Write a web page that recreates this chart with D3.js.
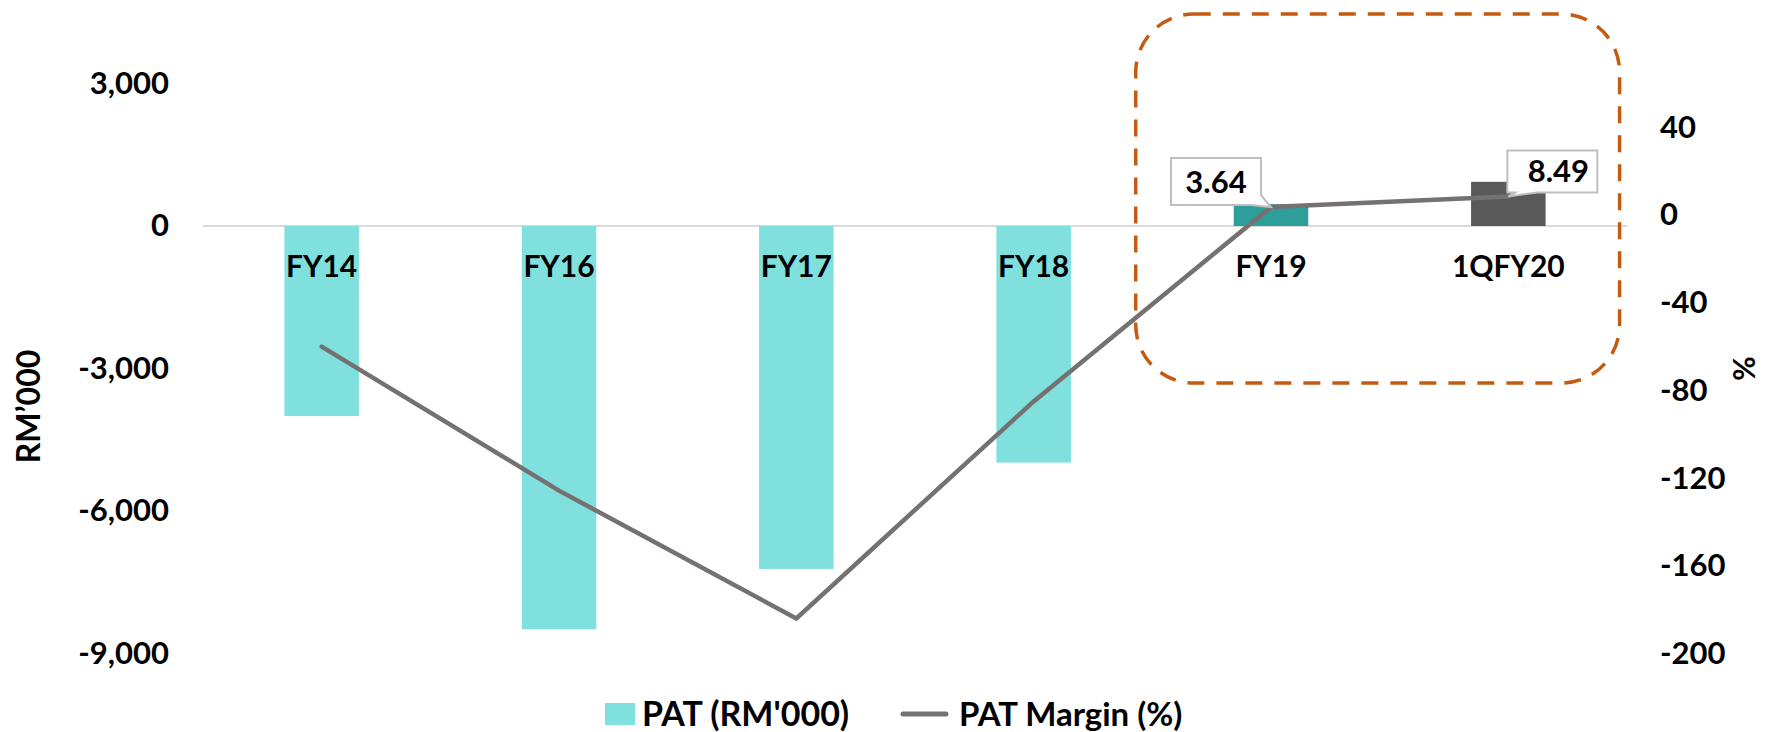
<!DOCTYPE html>
<html lang="en">
<head>
    <meta charset="UTF-8">
    <title>PAT and PAT Margin</title>
    <script src="https://d3js.org/d3.v7.min.js"></script>
    <style>
        body { margin: 0; background: #fff; }
        text { font-family: Lato, "Open Sans", sans-serif; font-weight: 700; }
        .axis .domain { display: none; }
    </style>
</head>
<body>
    <svg id="chart" width="1767" height="732"></svg>
    <script>
        const categories = ["FY14", "FY16", "FY17", "FY18", "FY19", "1QFY20"];
        const patValues = [-4000, -8490, -7220, -4980, 460, 930];
        const marginValues = [-60, -125.7, -184, -85, 3.64, 8.49];
        const barColors = ["#7FE0DE", "#7FE0DE", "#7FE0DE", "#7FE0DE", "#2E9E9A", "#595959"];
        const leftTicks = [3000, 0, -3000, -6000, -9000];
        const rightTicks = [40, 0, -40, -80, -120, -160, -200];
        const labelledCats = ["FY19", "1QFY20"];

        const data = categories.map((c, i) => ({cat: c, pat: patValues[i], margin: marginValues[i], color: barColors[i]}));

        const svg = d3.select("#chart");
        const plot = {left: 203, right: 1627, top: 83.5, bottom: 653.5};

        const x = d3.scaleBand()
            .domain(categories)
            .range([plot.left, plot.right])
            .paddingInner(0.686)
            .paddingOuter(0.343);
        const yL = d3.scaleLinear().domain([-9000, 3000]).range([plot.bottom, plot.top]);
        const yR = d3.scaleLinear().domain([-200, 60]).range([plot.bottom, plot.top]);
        const fmt = d => d3.format(",")(d).replace("\u2212", "-");

        // zero line
        svg.append("line")
            .attr("x1", plot.left).attr("x2", plot.right)
            .attr("y1", yL(0)).attr("y2", yL(0))
            .attr("stroke", "#D9D9D9").attr("stroke-width", 2);

        // bars
        svg.selectAll(".bar")
            .data(data)
            .enter()
            .append("rect")
            .attr("class", "bar")
            .attr("x", d => x(d.cat))
            .attr("width", x.bandwidth())
            .attr("y", d => yL(Math.max(0, d.pat)))
            .attr("height", d => Math.abs(yL(d.pat) - yL(0)))
            .attr("fill", d => d.color);

        // category labels under the zero line
        svg.selectAll(".cat")
            .data(data)
            .enter()
            .append("text")
            .attr("class", "cat")
            .attr("x", d => x(d.cat) + x.bandwidth() / 2)
            .attr("y", yL(0) + 51)
            .attr("text-anchor", "middle")
            .attr("font-size", 30)
            .text(d => d.cat);

        // margin line
        const line = d3.line()
            .x(d => x(d.cat) + x.bandwidth() / 2)
            .y(d => yR(d.margin));
        svg.append("path")
            .datum(data)
            .attr("d", line)
            .attr("fill", "none")
            .attr("stroke", "#767171")
            .attr("stroke-width", 4.5)
            .attr("stroke-linecap", "round");

        // axes
        svg.append("g")
            .attr("class", "axis")
            .attr("transform", `translate(${plot.left},0)`)
            .call(d3.axisLeft(yL).tickValues(leftTicks).tickSize(0).tickPadding(34).tickFormat(fmt));
        svg.append("g")
            .attr("class", "axis")
            .attr("transform", `translate(${plot.right},0)`)
            .call(d3.axisRight(yR).tickValues(rightTicks).tickSize(0).tickPadding(33).tickFormat(fmt));
        svg.selectAll(".axis text")
            .attr("font-size", 31)
            .attr("fill", "#000")
            .style("font-family", "Lato, sans-serif")
            .style("font-weight", 700);

        svg.append("text")
            .attr("transform", `translate(40,${(plot.top + plot.bottom) / 2 + 38}) rotate(-90)`)
            .attr("text-anchor", "middle")
            .attr("font-size", 32)
            .text("RM\u2019000");
        svg.append("text")
            .attr("transform", `translate(1733,${yR(-70)}) rotate(90)`)
            .attr("text-anchor", "middle")
            .attr("font-size", 30)
            .text("%");

        // data label callouts
        const callouts = data.filter(d => labelledCats.includes(d.cat));
        callouts.forEach((d, i) => {
            const px = x(d.cat) + x.bandwidth() / 2;
            const py = yR(d.margin);
            const w = 90, h = i === 0 ? 47 : 42;
            let bx, by, path;
            if (i === 0) {
                bx = px - 100; by = py - 49;
                path = `M${bx},${by}H${bx + w}V${by + h - 10}L${px},${py}L${bx + w - 10},${by + h}H${bx}Z`;
            } else {
                bx = px - 1; by = py - 46;
                path = `M${bx},${by}H${bx + w}V${by + h}H${bx + 30}L${px},${py}L${bx + 8},${by + h}H${bx}Z`;
            }
            svg.append("path")
                .attr("d", path)
                .attr("fill", "#fff")
                .attr("stroke", "#BFBFBF")
                .attr("stroke-width", 2);
            svg.append("text")
                .attr("x", bx + w / 2 + (i === 0 ? 0 : 6))
                .attr("y", by + h / 2 + 11)
                .attr("text-anchor", "middle")
                .attr("font-size", 31)
                .text(d.margin.toFixed(2));
        });

        // dashed highlight around the last two periods
        const hx0 = x("FY19") - 98, hx1 = x("1QFY20") + x.bandwidth() + 74;
        svg.append("rect")
            .attr("x", hx0).attr("y", 14)
            .attr("width", hx1 - hx0).attr("height", 369)
            .attr("rx", 58).attr("ry", 58)
            .attr("fill", "none")
            .attr("stroke", "#C55A11")
            .attr("stroke-width", 3.5)
            .attr("stroke-dasharray", "17,12");

        // legend
        const legend = svg.append("g").attr("transform", "translate(0,714)");
        legend.append("rect").attr("x", 605).attr("y", -11).attr("width", 30).attr("height", 22).attr("fill", barColors[0]);
        legend.append("text").attr("x", 642).attr("y", 12).attr("font-size", 34).text("PAT (RM'000)");
        legend.append("line").attr("x1", 903).attr("x2", 946).attr("y1", 0).attr("y2", 0)
            .attr("stroke", "#767171").attr("stroke-width", 5).attr("stroke-linecap", "round");
        legend.append("text").attr("x", 959).attr("y", 12).attr("font-size", 33).text("PAT Margin (%)");
    </script>
</body>
</html>
